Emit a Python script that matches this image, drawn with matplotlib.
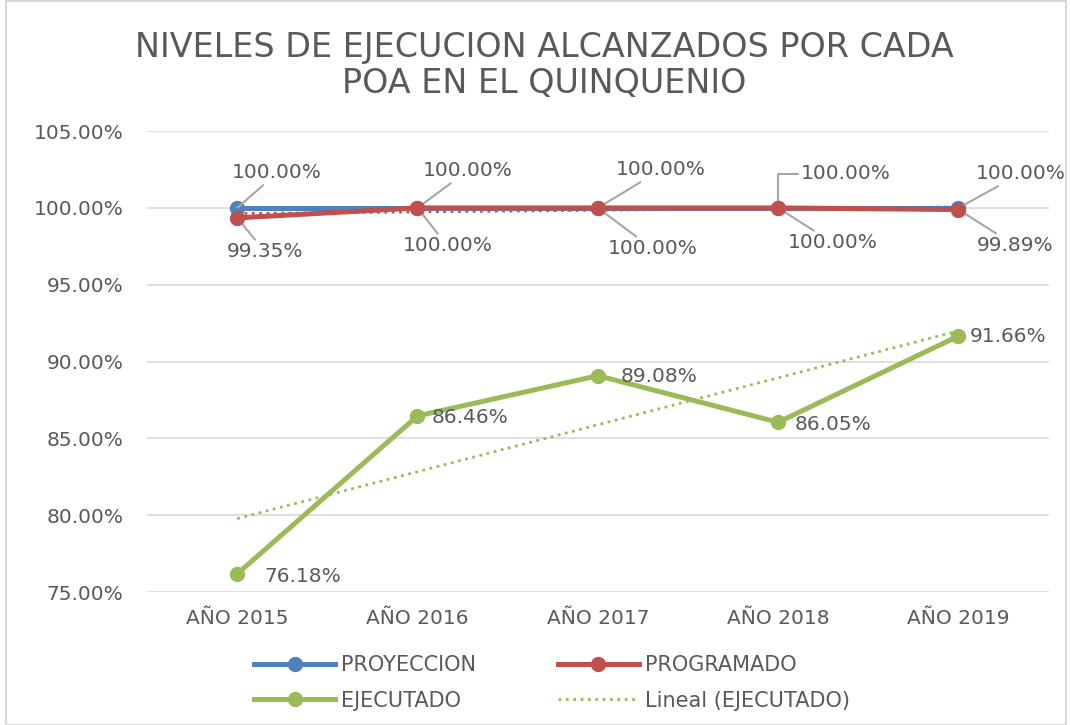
import matplotlib.pyplot as plt
import numpy as np
from matplotlib.patches import Rectangle

# datos del grafico
anios = ['AÑO 2015', 'AÑO 2016', 'AÑO 2017', 'AÑO 2018', 'AÑO 2019']
proyeccion = [100.00, 100.00, 100.00, 100.00, 100.00]
programado = [99.35, 100.00, 100.00, 100.00, 99.89]
ejecutado = [76.18, 86.46, 89.08, 86.05, 91.66]
y_ticks = [75, 80, 85, 90, 95, 100, 105]

c_azul = '#4F81BD'
c_rojo = '#C0504D'
c_verde = '#9BBB59'
c_texto = '#595959'
c_guia = '#A6A6A6'

x = np.arange(len(anios))

fig = plt.figure(figsize=(10.7, 7.25), dpi=100)
ax = fig.add_axes([0.1374, 0.1834, 0.8426, 0.6358])

l_pro, = ax.plot(x, proyeccion, '-o', color=c_azul, lw=3.6, ms=10, label='PROYECCION', zorder=3)
l_prg, = ax.plot(x, programado, '-o', color=c_rojo, lw=3.6, ms=10, label='PROGRAMADO', zorder=4)
l_ej, = ax.plot(x, ejecutado, '-o', color=c_verde, lw=3.6, ms=10, label='EJECUTADO', zorder=3)

# lineas de tendencia
p_ej = np.polyfit(x, ejecutado, 1)
l_tend, = ax.plot(x, np.polyval(p_ej, x), ':', color=c_verde, lw=2, label='Lineal (EJECUTADO)', zorder=2)
p_pr = np.polyfit(x, programado, 1)
ax.plot(x, np.polyval(p_pr, x), ':', color=c_rojo, lw=2, zorder=2)

ax.set_xlim(-0.5, 4.5)
ax.set_ylim(75, 105)
ax.set_yticks(y_ticks)
ax.set_yticklabels(['%.2f%%' % v for v in y_ticks])
ax.set_xticks(x)
ax.set_xticklabels(anios)
ax.tick_params(length=0, labelsize=14.5, colors=c_texto)
ax.tick_params(axis='y', pad=17)
ax.tick_params(axis='x', pad=12)
ax.grid(axis='y', color='#D9D9D9', lw=1.2)
ax.set_axisbelow(True)
for s in ax.spines.values():
    s.set_visible(False)

fs = 14.5

# etiquetas de proyeccion (arriba)
off_pro = [(40, 35), (50, 37), (63, 38), (72, 34), (62, 34)]
for i, v in enumerate(proyeccion):
    if i == 3:
        ax.annotate('%.2f%%' % v, (x[i], v), xytext=(23, 34), textcoords='offset pixels',
                    fontsize=fs, color=c_texto, ha='left', va='center',
                    arrowprops=dict(arrowstyle='-', color=c_guia, lw=1.5, shrinkA=0, shrinkB=0,
                                    relpos=(0, 0.5),
                                    connectionstyle='angle,angleA=0,angleB=90,rad=0'))
    else:
        ax.annotate('%.2f%%' % v, (x[i], v), xytext=off_pro[i], textcoords='offset pixels',
                    fontsize=fs, color=c_texto, ha='center', va='center',
                    arrowprops=dict(arrowstyle='-', color=c_guia, lw=1.5, shrinkA=0, shrinkB=0))

# etiquetas de programado (abajo)
off_prg = [(28, -34), (30, -38), (55, -41), (55, -35), (57, -36)]
for i, v in enumerate(programado):
    ax.annotate('%.2f%%' % v, (x[i], v), xytext=off_prg[i], textcoords='offset pixels',
                fontsize=fs, color=c_texto, ha='center', va='center',
                arrowprops=dict(arrowstyle='-', color=c_guia, lw=1.5, shrinkA=0, shrinkB=0))

# etiquetas de ejecutado (a la derecha, sin guia)
off_ej = [(66, -3), (53, -2), (61, -1), (55, -2), (50, 0)]
for i, v in enumerate(ejecutado):
    ax.annotate('%.2f%%' % v, (x[i], v), xytext=off_ej[i], textcoords='offset pixels',
                fontsize=fs, color=c_texto, ha='center', va='center')

fig.text(0.509, 0.910, 'NIVELES DE EJECUCION ALCANZADOS POR CADA\nPOA EN EL QUINQUENIO',
         ha='center', va='center', fontsize=24, color=c_texto, linespacing=1.1)

fig.legend([l_pro, l_ej, l_prg, l_tend],
           ['PROYECCION', 'EJECUTADO', 'PROGRAMADO', 'Lineal (EJECUTADO)'],
           loc='center', bbox_to_anchor=(0.516, 0.058), ncol=2, frameon=False,
           fontsize=15, labelcolor=c_texto, handlelength=3.9, columnspacing=3.9,
           handletextpad=0.3, labelspacing=0.75)

fig.patches.append(Rectangle((0.006, 0.0), 0.99, 0.998, transform=fig.transFigure,
                             fill=False, edgecolor='#D9D9D9', lw=1.5))

fig.savefig('out.png', dpi=100)
